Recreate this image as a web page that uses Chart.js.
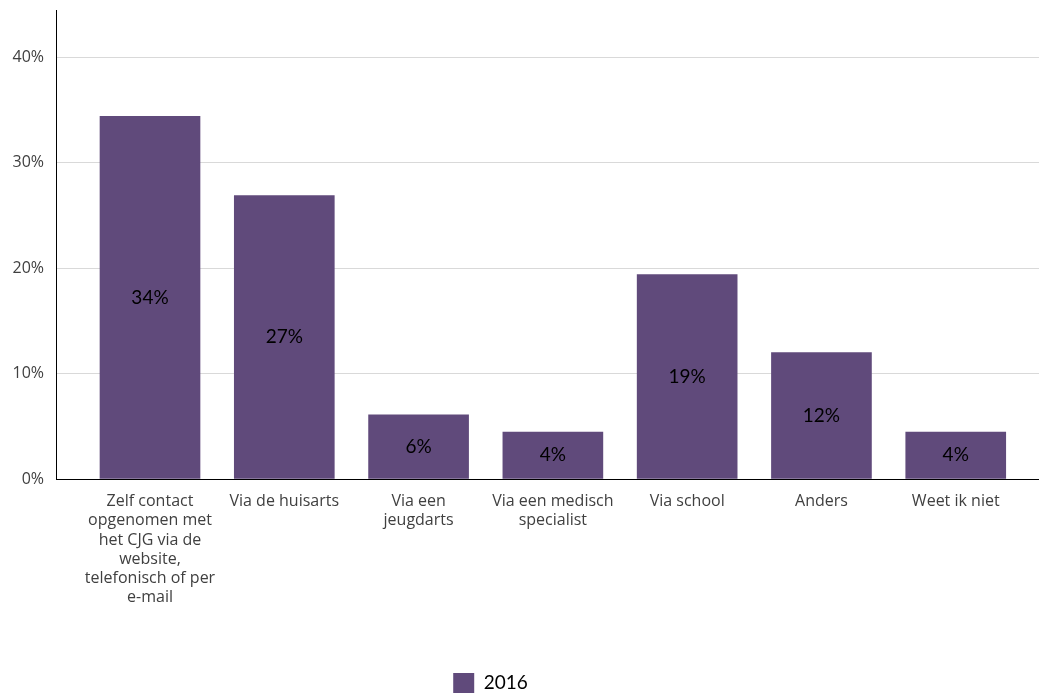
<!DOCTYPE html>
<html>
<head>
<meta charset="utf-8">
<script src="https://cdn.jsdelivr.net/npm/chart.js@4/dist/chart.umd.min.js"></script>
<style>
  html, body { margin: 0; padding: 0; background: #fff; }
  #wrap { width: 1039px; height: 693px; position: relative; }
</style>
</head>
<body>
<div id="wrap"><canvas id="c" width="1039" height="693"></canvas></div>
<script>
const categories = [
  ["Zelf contact", "opgenomen met", "het CJG via de", "website,", "telefonisch of per", "e-mail"],
  ["Via de huisarts"],
  ["Via een", "jeugdarts"],
  ["Via een medisch", "specialist"],
  ["Via school"],
  ["Anders"],
  ["Weet ik niet"]
];
const seriesName = "2016";
const values2016 = [34.4, 26.9, 6.1, 4.45, 19.4, 12.0, 4.45];
const yTicks = [0, 10, 20, 30, 40];

const barColor = "#604a7b";
const FONT = "'Open Sans', Lato, sans-serif";

const dataLabels = {
  id: "dataLabels",
  afterDatasetsDraw(chart) {
    const ctx = chart.ctx;
    const meta = chart.getDatasetMeta(0);
    ctx.save();
    ctx.font = "19px Lato, sans-serif";
    ctx.fillStyle = "#000";
    ctx.textAlign = "center";
    ctx.textBaseline = "middle";
    meta.data.forEach((bar, i) => {
      const v = values2016[i];
      const yMid = (bar.y + bar.base) / 2;
      ctx.fillText(Math.round(v) + "%", bar.x, yMid);
    });
    ctx.restore();
  }
};

new Chart(document.getElementById("c"), {
  type: "bar",
  data: {
    datasets: [{
      label: seriesName,
      data: values2016.map((v, i) => ({ x: i, y: v })),
      backgroundColor: barColor,
      borderWidth: 0,
      barThickness: 100
    }]
  },
  options: {
    responsive: false,
    animation: false,
    layout: { padding: { top: 10, right: 0, left: -58, bottom: -10 } },
    plugins: {
      legend: {
        position: "bottom",
        labels: {
          boxWidth: 21,
          boxHeight: 20,
          padding: 10,
          color: "#000",
          font: { family: "Lato, sans-serif", size: 19 }
        }
      },
      tooltip: { enabled: false }
    },
    scales: {
      x: {
        type: "linear",
        offset: false,
        min: -0.7,
        max: 6.62,
        grid: { display: false, drawTicks: false },
        border: { display: true, color: "#000", width: 1 },
        afterBuildTicks(scale) {
          scale.ticks = categories.map((c, i) => ({ value: i }));
        },
        afterFit(scale) { scale.height = 184; scale.paddingLeft = 0; scale.paddingRight = 0; },
        ticks: {
          autoSkip: false,
          maxRotation: 0,
          minRotation: 0,
          padding: 13,
          color: "#404040",
          font: { family: FONT, size: 16, lineHeight: 1.2 },
          callback: (v) => categories[v] || ""
        }
      },
      y: {
        min: 0,
        max: 44.5,
        afterBuildTicks(scale) {
          scale.ticks = yTicks.map(v => ({ value: v }));
        },
        afterFit(scale) { scale.width = 114; scale.paddingTop = 0; scale.paddingBottom = 0; },
        grid: { color: "#d9d9d9", lineWidth: 1, drawTicks: false },
        border: { display: true, color: "#000", width: 1 },
        ticks: {
          padding: 12,
          color: "#404040",
          font: { family: FONT, size: 16 },
          callback: (v) => v + "%"
        }
      }
    }
  },
  plugins: [dataLabels]
});
</script>
</body>
</html>
